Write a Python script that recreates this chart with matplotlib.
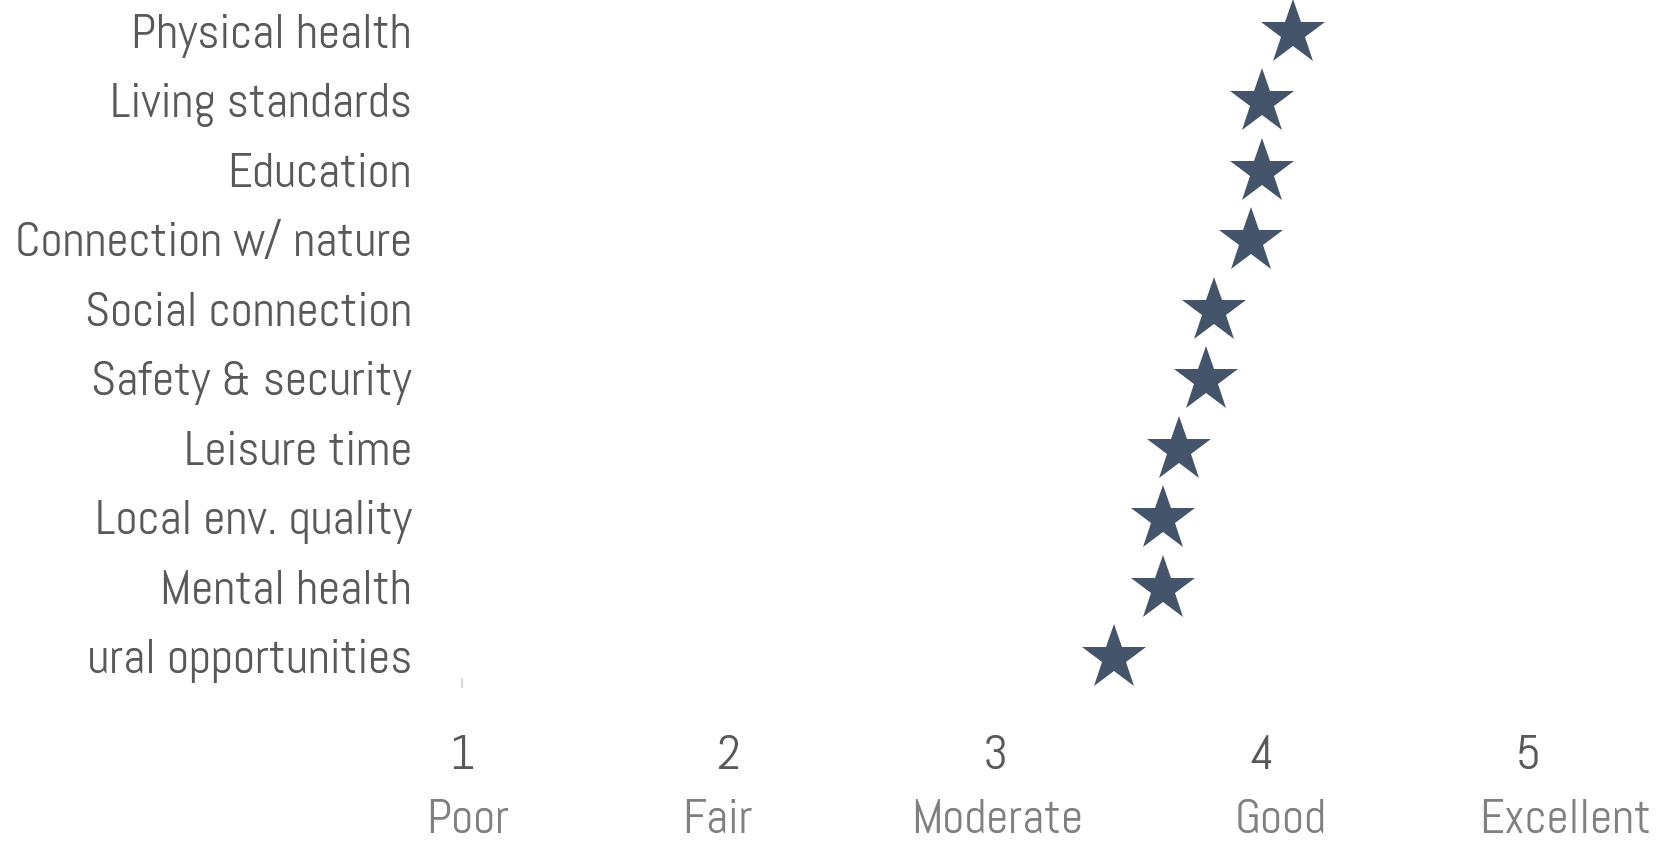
import matplotlib
matplotlib.use("Agg")
import matplotlib.pyplot as plt
from matplotlib import font_manager as fm
from matplotlib.transforms import blended_transform_factory, ScaledTranslation
from matplotlib.patches import Rectangle

categories = ["Physical health", "Living standards", "Education", "Connection w/ nature",
              "Social connection", "Safety & security", "Leisure time", "Local env. quality",
              "Mental health", "Cultural opportunities"]
scores = [4.12, 4.00, 4.00, 3.96, 3.82, 3.79, 3.69, 3.63, 3.63, 3.445]
tick_values = [1, 2, 3, 4, 5]
tick_names = ["Poor", "Fair", "Moderate", "Good", "Excellent"]

names = {f.name for f in fm.fontManager.ttflist}
prefs = ["Abel", "Roboto Condensed", "Liberation Sans Narrow"]
fam = next((p for p in prefs if p in names), "DejaVu Sans")
plt.rcParams["font.family"] = [fam, "DejaVu Sans"]

W, H = 1669, 842
fig = plt.figure(figsize=(W / 100, H / 100), dpi=100)
L, R, T, B = 462, 1528, 33, 658
ax = fig.add_axes([L / W, 1 - B / H, (R - L) / W, (B - T) / H])
ypos = list(range(len(categories)))
ax.plot(scores, ypos, linestyle="none", marker="*", markersize=49, color="#44546A",
        markeredgewidth=0, clip_on=False)
ax.set_xlim(1, 5)
ax.set_ylim(len(categories) - 1, 0)
ax.set_yticks(ypos)
ax.set_yticklabels(categories, fontsize=35, color="#595959")
ax.tick_params(axis="y", length=0, pad=36)
for lbl in ax.get_yticklabels():
    lbl.set_transform(lbl.get_transform() + ScaledTranslation(0, 2 / 100, fig.dpi_scale_trans))
ax.set_xticks([])
for s in ["top", "right", "bottom"]:
    ax.spines[s].set_visible(False)
ax.spines["left"].set_color("#d9d9d9")
ax.spines["left"].set_bounds(9.3, 9.42)
ax.spines["left"].set_linewidth(1.5)

tr = blended_transform_factory(ax.transData, fig.transFigure)
name_shift = [0.02, -0.04, 0.01, 0.07, 0.14]
for v, n, d in zip(tick_values, tick_names, name_shift):
    ax.text(v, 1 - 757 / H, str(v), transform=tr, ha="center", va="center",
            fontsize=35, color="#595959")
    ax.text(v + d, 1 - 821 / H, n, transform=tr, ha="center", va="center",
            fontsize=35, color="#808080")

fig.patches.append(Rectangle((0, 1 - 690 / H), 88 / W, 60 / H, transform=fig.transFigure,
                             facecolor="white", edgecolor="none", zorder=10))
fig.savefig("out.png", dpi=100)
